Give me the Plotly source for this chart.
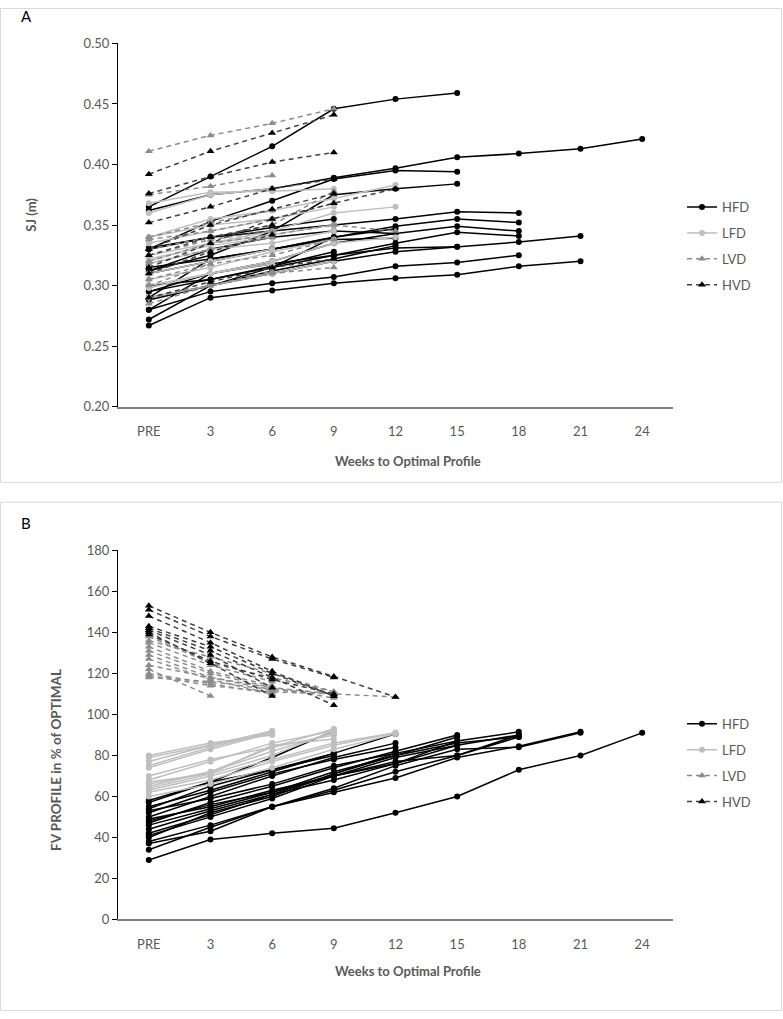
import plotly.graph_objects as go

# x categories
weeks = ["PRE", "3", "6", "9", "12", "15", "18", "21", "24"]

# ---- panel A: SJ (m) ----
hfd_sj = [
    [0.362, 0.375, 0.380, 0.389, 0.397, 0.406, 0.409, 0.413, 0.421],
    [0.290, 0.300, 0.310, 0.320, 0.328, 0.332, 0.336, 0.341],
    [0.267, 0.290, 0.296, 0.302, 0.306, 0.309, 0.316, 0.320],
    [0.330, 0.340, 0.345, 0.350, 0.355, 0.361, 0.360],
    [0.310, 0.320, 0.330, 0.340, 0.349, 0.355, 0.352],
    [0.295, 0.310, 0.320, 0.335, 0.343, 0.349, 0.345],
    [0.300, 0.305, 0.315, 0.325, 0.335, 0.344, 0.341],
    [0.280, 0.295, 0.302, 0.307, 0.316, 0.319, 0.325],
    [0.365, 0.390, 0.415, 0.446, 0.454, 0.459],
    [0.330, 0.353, 0.370, 0.388, 0.395, 0.394],
    [0.312, 0.325, 0.345, 0.375, 0.380, 0.384],
    [0.280, 0.310, 0.318, 0.325, 0.331, 0.332],
    [0.272, 0.300, 0.315, 0.340, 0.347],
    [0.312, 0.330, 0.340, 0.345, 0.343],
    [0.288, 0.300, 0.312, 0.322, 0.333],
    [0.315, 0.322, 0.330, 0.338, 0.339],
    [0.290, 0.322, 0.330, 0.340],
    [0.295, 0.305, 0.316, 0.328],
    [0.331, 0.340, 0.348, 0.355],
]
lfd_sj = [
    [0.340, 0.355, 0.362, 0.372, 0.383],
    [0.320, 0.335, 0.345, 0.360, 0.365],
    [0.300, 0.310, 0.320, 0.335, 0.340],
    [0.368, 0.377, 0.378, 0.380],
    [0.335, 0.345, 0.355, 0.365],
    [0.325, 0.335, 0.342, 0.350],
    [0.318, 0.330, 0.335, 0.345],
    [0.305, 0.315, 0.328, 0.338],
    [0.290, 0.300, 0.310, 0.320],
    [0.360, 0.375, 0.380],
    [0.340, 0.350, 0.355],
    [0.322, 0.333, 0.340],
    [0.310, 0.320, 0.330],
    [0.298, 0.310, 0.318],
]
lvd_sj = [
    [0.411, 0.424, 0.434, 0.446],
    [0.375, 0.382, 0.391],
    [0.340, 0.352, 0.362],
    [0.338, 0.345, 0.355, 0.368],
    [0.325, 0.338, 0.345],
    [0.318, 0.330, 0.340],
    [0.300, 0.318, 0.325, 0.338],
    [0.305, 0.318],
    [0.290, 0.300, 0.312],
    [0.320, 0.335, 0.342, 0.350, 0.345],
    [0.285, 0.300, 0.310, 0.315],
    [0.330, 0.340, 0.350, 0.378],
]
hvd_sj = [
    [0.315, 0.335, 0.355, 0.368, 0.380],
    [0.392, 0.411, 0.426, 0.441],
    [0.376, 0.390, 0.402, 0.410],
    [0.352, 0.365, 0.380, 0.388],
    [0.330, 0.350, 0.363, 0.376],
    [0.325, 0.340, 0.350],
    [0.310, 0.328, 0.342],
    [0.290, 0.303, 0.315, 0.322],
]

# ---- panel B: FV profile in % of optimal ----
hfd_fv = [
    [29, 39, 42, 44.5, 52, 60, 73, 80, 91],
    [34, 45, 55, 62, 69, 79, 84.5, 91.5],
    [37, 43, 55, 64, 75, 83, 84, 91],
    [40, 52, 60, 71, 81, 87, 91.5],
    [41, 50, 59, 70, 79, 85, 90],
    [42, 51, 61, 71, 80, 86, 89],
    [46, 54, 62, 70, 77, 80, 90],
    [38, 46, 55, 63, 72, 80, 89],
    [47, 57, 65, 74, 82, 90],
    [48, 56, 62, 72, 80, 89],
    [49, 55, 63, 70, 76, 87],
    [44, 53, 61, 68, 76, 85],
    [50, 60, 70, 79, 86],
    [52, 62, 71, 78, 84],
    [53, 59, 66, 75, 81],
    [54, 65, 73, 81, 90.5],
    [55, 63, 72, 81],
    [57, 67, 73, 80],
    [58, 67, 79, 92],
]
lfd_fv = [
    [62, 68, 77, 85, 91],
    [60, 66, 74, 83, 90.5],
    [63, 70, 78, 86, 91],
    [64, 71, 80, 92],
    [65, 72, 82, 91],
    [66, 72, 84, 93],
    [67, 71, 85, 88],
    [68, 77, 86, 92],
    [70, 78, 84, 90],
    [74, 83, 91],
    [75, 84, 91.5],
    [77, 85, 92],
    [79, 85, 91],
    [80, 86, 90],
]
lvd_fv = [
    [136, 128, 120, 111],
    [135, 124, 116],
    [133, 121, 114],
    [131, 120, 113, 110],
    [129, 118, 112],
    [127, 117, 110],
    [124, 118, 113, 108],
    [122, 109],
    [120, 115, 110],
    [119, 114, 111, 110, 108.5],
    [118, 116, 112, 110],
    [138, 125, 118, 111],
]
hvd_fv = [
    [153, 140, 128, 118.5, 108.5],
    [151, 138, 127, 118],
    [148, 135, 121, 109],
    [143, 133, 120, 109],
    [142, 131, 118, 104.5],
    [141, 129, 113],
    [140, 125, 109],
    [139, 126, 117, 110],
]

GROUPS = [
    ("HFD", "#000000", "#000000", "solid", "circle", 6),
    ("LFD", "#bfbfbf", "#bfbfbf", "solid", "circle", 6),
    ("LVD", "#8c8c8c", "#8c8c8c", "5px,4px", "triangle-up", 7),
    ("HVD", "#404040", "#000000", "5px,4px", "triangle-up", 7),
]
FONT = "Lato, 'Open Sans', sans-serif"
GREY_TXT = "#595959"
W, H = 783, 1019


def add_group(fig, name, series, style, xaxis, yaxis, legend):
    _, line_col, mk_col, dash, symbol, size = style
    for i, vals in enumerate(series):
        fig.add_trace(go.Scatter(
            x=weeks[:len(vals)], y=vals, mode="lines+markers",
            name=name, legendgroup=legend + name, showlegend=(i == 0),
            legend=legend, xaxis=xaxis, yaxis=yaxis,
            line=dict(color=line_col, width=1.5, dash=dash),
            marker=dict(color=mk_col, symbol=symbol, size=size),
        ))


def px_y(y):
    return 1 - y / H


def main():
    fig = go.Figure()
    data_a = [hfd_sj, lfd_sj, lvd_sj, hvd_sj]
    data_b = [hfd_fv, lfd_fv, lvd_fv, hvd_fv]
    for style, sa, sb in zip(GROUPS, data_a, data_b):
        add_group(fig, style[0], sa, style, "x", "y", "legend")
        add_group(fig, style[0], sb, style, "x2", "y2", "legend2")

    xdom = [118 / W, 673 / W]
    xcommon = dict(
        type="category", categoryorder="array", categoryarray=weeks,
        range=[-0.5, 8.5], showgrid=False, zeroline=False,
        showline=True, linecolor="#7f7f7f", linewidth=1.5,
        ticks="", ticklabelstandoff=12,
        tickfont=dict(family=FONT, size=13, color=GREY_TXT),
        domain=xdom,
    )
    ycommon = dict(
        showgrid=False, zeroline=False, showline=True,
        linecolor="#000000", linewidth=1.2,
        ticks="outside", ticklen=5, tickcolor="#000000",
        tickfont=dict(family=FONT, size=13, color=GREY_TXT),
    )
    legcommon = dict(
        font=dict(family=FONT, size=13, color=GREY_TXT),
        bgcolor="rgba(0,0,0,0)", xanchor="left", yanchor="top",
        tracegroupgap=6, itemwidth=30, traceorder="grouped",
    )

    fig.update_layout(
        width=W, height=H, autosize=False,
        margin=dict(l=0, r=0, t=0, b=0),
        paper_bgcolor="white", plot_bgcolor="white",
        xaxis=dict(xcommon, anchor="y"),
        xaxis2=dict(xcommon, anchor="y2"),
        yaxis=dict(ycommon, range=[0.2, 0.5], dtick=0.05, tickformat=".2f",
                   domain=[px_y(405), px_y(36)], anchor="x"),
        yaxis2=dict(ycommon, range=[0, 180], dtick=20,
                    domain=[px_y(926), px_y(551)], anchor="x2"),
        legend=dict(legcommon, x=682 / W, y=px_y(187)),
        legend2=dict(legcommon, x=682 / W, y=px_y(712)),
        showlegend=True,
    )

    # panel frames
    for y0, y1 in [(0.5, 482), (502, H - 0.5)]:
        fig.add_shape(type="rect", xref="paper", yref="paper",
                      x0=0.5 / W, x1=(W - 1.5) / W, y0=px_y(y1), y1=px_y(y0),
                      line=dict(color="#d9d9d9", width=1))

    notes = [
        ("A", 26, 8, 15, 0, False),
        ("B", 26, 523, 15, 0, False),
        ("SJ (m)", 31, 210, 13, -90, True),
        ("FV PROFILE in % of OPTIMAL", 56, 764, 13.5, -90, True),
        ("Weeks to Optimal Profile", 408, 460, 13, 0, True),
        ("Weeks to Optimal Profile", 408, 978, 13, 0, True),
    ]
    for txt, x, y, size, ang, bold in notes:
        fig.add_annotation(
            text=f"<b>{txt}</b>" if bold else txt,
            xref="paper", yref="paper", x=x / W, y=px_y(y),
            xanchor="center", yanchor="middle", showarrow=False,
            textangle=ang,
            font=dict(family=FONT, size=size,
                      color=GREY_TXT if bold else "#000000"),
        )

    # drop the default page margin so the figure fills the window
    fig.write_html("out.html", config={"displayModeBar": False},
                   post_script="document.body.style.margin='0';"
                               "document.body.style.overflow='hidden';")


if __name__ == "__main__":
    main()
